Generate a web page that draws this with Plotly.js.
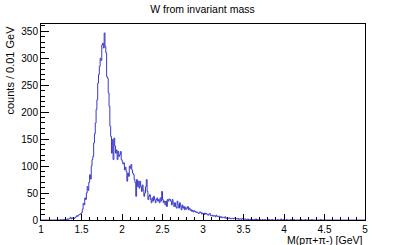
<!DOCTYPE html>
<html>
<head>
<meta charset="utf-8">
<script src="https://cdn.plot.ly/plotly-3.0.1.min.js"></script>
<style>html,body{margin:0;padding:0;background:#fff;}#chart{width:405px;height:245px;}</style>
</head>
<body>
<div id="chart"></div>
<script>
// Histogram: W from invariant mass, bins of 0.01 GeV from 1 to 5
var binLow = 1.0;
var binWidth = 0.01;
var counts = [
  0,0,0,0,0,0,0,0,0,0,          // 1.00
  0,0,0,0,0,0,0,0,0,0,          // 1.10
  0,0,0,0,1,0,0,1,0,1,          // 1.20
  1,0,2,1,2,3,5,2,4,3,          // 1.30
  4,3,5,6,8,7,9,10,11,12,       // 1.40
  14,20,31,28,41,38,50,62,55,70, // 1.50
  84,76,100,112,118,143,160,180,205,223, // 1.60
  254,270,285,300,296,325,328,319,347,322, // 1.70
  310,266,263,236,211,174,155,124,149,112, // 1.80
  152,137,124,130,112,127,118,121,127,112, // 1.90
  109,104,106,93,98,90,72,87,81,100,   // 2.00
  96,103,93,87,84,75,69,44,75,62,      // 2.10
  72,59,72,62,53,65,56,44,50,62,       // 2.20
  75,53,38,44,47,38,32,41,35,44,       // 2.30
  38,32,38,41,35,38,32,41,35,53,       // 2.40
  38,32,35,28,35,25,38,35,39,38,       // 2.50
  35,28,38,32,25,32,25,22,35,28,       // 2.60
  22,32,25,19,28,22,25,19,24,20,       // 2.70
  22,25,19,22,18,19,16,18,15,17,       // 2.80
  16,14,15,14,12,13,15,14,11,13,       // 2.90
  12,10,13,11,12,10,9,11,12,8,         // 3.00
  8,9,7,8,8,6,9,7,6,7,                 // 3.10
  7,5,6,4,5,5,4,6,3,4,                 // 3.20
  4,3,4,3,2,3,3,2,3,4,                 // 3.30
  3,2,2,3,1,2,2,1,3,2,                 // 3.40
  2,1,2,1,1,2,0,1,1,2,                 // 3.50
  1,0,1,1,0,2,0,1,0,0,                 // 3.60
  1,0,0,1,0,0,1,0,0,0,                 // 3.70
  0,1,0,0,0,1,0,0,0,0,                 // 3.80
  0,0,1,0,0,0,2,0,0,1,                 // 3.90
  0,0,0,1,0,0,0,0,1,0,                 // 4.00
  0,0,1,0,0,0,0,0,0,0,                 // 4.10
  0,1,0,0,0,0,1,0,0,0,                 // 4.20
  0,0,0,0,1,0,0,0,0,0,                 // 4.30
  0,0,0,0,0,1,0,0,0,0,                 // 4.40
  0,0,0,0,0,0,0,0,0,0,                 // 4.50
  0,0,0,0,0,0,0,0,0,0,                 // 4.60
  0,0,0,0,0,0,0,0,0,0,                 // 4.70
  0,0,0,0,0,0,0,0,0,0,                 // 4.80
  0,0,0,0,0,0,0,0,0,0                  // 4.90
];
var titleText = "W from invariant mass";
var xTitle = "M(pπ+π-) [GeV]";
var yTitle = "counts / 0.01 GeV";

// step line from bin edges
var xs = [], ys = [];
for (var i = 0; i < counts.length; i++) {
  xs.push(binLow + i * binWidth);
  ys.push(counts[i]);
}
xs.push(binLow + counts.length * binWidth);
ys.push(counts[counts.length - 1]);

var trace = {
  type: 'scatter', mode: 'lines', x: xs, y: ys,
  line: {shape: 'hv', color: '#3a3ac8', width: 1},
  hoverinfo: 'skip'
};

var font = {family: 'Liberation Sans, Arial, sans-serif', color: '#000'};
var layout = {
  width: 405, height: 245,
  margin: {l: 41, r: 40, t: 24, b: 25, pad: 0},
  paper_bgcolor: '#fff', plot_bgcolor: '#fff',
  showlegend: false,
  font: font,
  title: {text: titleText, font: {family: font.family, size: 10.5, color: '#000'},
          x: 0.5, xref: 'container', xanchor: 'center', y: 1 - 9/245, yref: 'container', yanchor: 'middle'},
  xaxis: {
    range: [1, 5], dtick: 0.5, tick0: 1, ticks: 'inside', ticklen: 6, tickwidth: 1, tickcolor: '#000',
    showline: true, linecolor: '#000', linewidth: 1, mirror: true, showgrid: false, zeroline: false,
    tickfont: {family: font.family, size: 10, color: '#000'},
    minor: {dtick: 0.1, tick0: 1, ticks: 'inside', ticklen: 3, tickcolor: '#000', showgrid: false}
  },
  yaxis: {
    range: [0, 363.6], dtick: 50, tick0: 0, ticks: 'inside', ticklen: 8, tickwidth: 1, tickcolor: '#000',
    showline: true, linecolor: '#000', linewidth: 1, mirror: true, showgrid: false, zeroline: false,
    tickfont: {family: font.family, size: 10, color: '#000'},
    minor: {dtick: 10, tick0: 0, ticks: 'inside', ticklen: 4, tickcolor: '#000', showgrid: false}
  },
  annotations: [
    {text: xTitle, xref: 'paper', yref: 'paper', x: 1, y: -(240 - 220.3) / 196,
     xanchor: 'right', yanchor: 'middle', showarrow: false, font: {family: font.family, size: 10.5, color: '#000'}},
    {text: yTitle, xref: 'paper', yref: 'paper', x: (9 - 41) / 324, y: 1,
     xanchor: 'center', yanchor: 'top', textangle: -90, showarrow: false, font: {family: font.family, size: 11, color: '#000'}}
  ]
};

Plotly.newPlot('chart', [trace], layout, {displayModeBar: false, staticPlot: true});
</script>
</body>
</html>
